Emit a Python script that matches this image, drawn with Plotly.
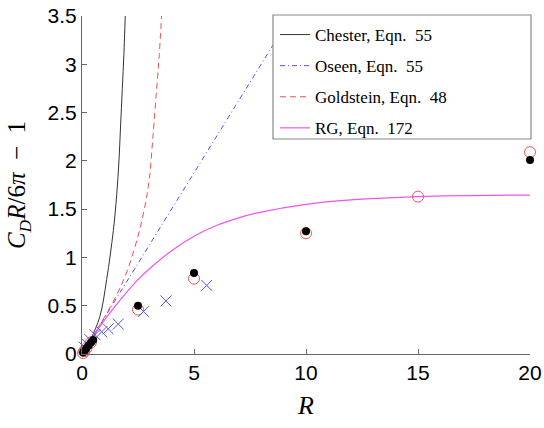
import plotly.graph_objects as go

# Theoretical curves (Reynolds number R vs. C_D R / 6pi - 1)
chester_R = [0, 0.4, 0.8, 1.1, 1.4, 1.55, 1.65, 1.72, 1.8, 1.87, 1.93]
chester_v = [0, 0.16, 0.39, 0.77, 1.28, 1.65, 2.0, 2.35, 2.75, 3.1, 3.5]

oseen_R = [0, 4.0, 8.5, 9.33]
oseen_v = [0, 1.5, 3.19, 3.5]

goldstein_R = [0, 0.5, 1, 1.5, 2, 2.5, 2.8, 3.0, 3.15, 3.3, 3.45, 3.55]
goldstein_v = [0, 0.19, 0.38, 0.59, 0.85, 1.22, 1.52, 1.8, 2.2, 2.65, 3.1, 3.5]

rg_R = [0, 0.5, 1, 1.5, 2, 2.5, 3, 4, 5, 6, 7, 8, 10, 12, 15, 20]
rg_v = [0, 0.18, 0.35, 0.5, 0.64, 0.77, 0.88, 1.07, 1.22, 1.33, 1.41, 1.47,
        1.55, 1.595, 1.63, 1.646]

# Measured / numerical points
filled_R = [0.05, 0.1, 0.2, 0.3, 0.4, 0.5, 2.5, 5, 10, 20]
filled_v = [0.015, 0.03, 0.06, 0.09, 0.12, 0.145, 0.50, 0.84, 1.27, 2.01]

open_R = [0.05, 0.1, 0.2, 0.4, 2.5, 5, 10, 15, 20]
open_v = [0.01, 0.03, 0.06, 0.12, 0.46, 0.78, 1.25, 1.63, 2.09]

cross_R = [0.1, 0.2, 0.35, 0.58, 0.88, 1.17, 1.62, 2.75, 3.75, 5.57]
cross_v = [0.07, 0.11, 0.15, 0.2, 0.23, 0.26, 0.31, 0.44, 0.55, 0.71]

x_ticks = [0, 5, 10, 15, 20]
y_ticks = [0, 0.5, 1, 1.5, 2, 2.5, 3, 3.5]

legend_names = ["Chester,&nbsp;Eqn.&nbsp;&nbsp;55", "Oseen,&nbsp;Eqn.&nbsp;&nbsp;55",
                "Goldstein,&nbsp;Eqn.&nbsp;&nbsp;48", "RG,&nbsp;Eqn.&nbsp;&nbsp;172"]

SERIF = "Liberation Serif, Times New Roman, serif"
SANS = "Liberation Sans, Arial, Helvetica, sans-serif"

# plot area in pixels
L, R_, T, B = 82, 530, 16, 354
PW, PH = R_ - L, B - T

fig = go.Figure()

fig.add_trace(go.Scatter(x=chester_R, y=chester_v, mode="lines", name=legend_names[0],
                         line=dict(color="#333333", width=1, shape="spline"),
                         legendgroup="a"))
fig.add_trace(go.Scatter(x=oseen_R, y=oseen_v, mode="lines", name=legend_names[1],
                         line=dict(color="#5050f0", width=1, dash="5px,3px,1px,3px"),
                         legendgroup="b"))
fig.add_trace(go.Scatter(x=goldstein_R, y=goldstein_v, mode="lines", name=legend_names[2],
                         line=dict(color="#f05050", width=1, dash="6px,4px", shape="spline"),
                         legendgroup="c"))
fig.add_trace(go.Scatter(x=rg_R, y=rg_v, mode="lines", name=legend_names[3],
                         line=dict(color="#ee55ee", width=1.2, shape="spline"),
                         legendgroup="d"))

fig.add_trace(go.Scatter(x=open_R, y=open_v, mode="markers", showlegend=False, cliponaxis=False,
                         marker=dict(symbol="circle-open", size=11, color="#ee5555",
                                     line=dict(width=1, color="#ee5555"))))
fig.add_trace(go.Scatter(x=cross_R, y=cross_v, mode="markers", showlegend=False, cliponaxis=False,
                         marker=dict(symbol="x-thin", size=11, color="#5555ee",
                                     line=dict(width=1, color="#5555ee"))))
fig.add_trace(go.Scatter(x=filled_R, y=filled_v, mode="markers", showlegend=False, cliponaxis=False,
                         marker=dict(symbol="circle", size=8, color="black")))

# Legend frame (white fill hides lines passing behind it)
fig.add_shape(type="rect", xref="paper", yref="paper",
              x0=(273 - L) / PW, x1=(531 - L) / PW,
              y0=(B - 139) / PH, y1=(B - 15) / PH,
              fillcolor="white", line=dict(color="#888888", width=1.2), layer="above")

axis_common = dict(showgrid=False, zeroline=False, showline=True, linecolor="#666666",
                   linewidth=1, ticks="inside", ticklen=5, tickcolor="#666666",
                   automargin=False,
                   tickfont=dict(family=SANS, size=21, color="black"), mirror=False)

fig.update_xaxes(range=[0, 20], tickvals=x_ticks, ticktext=[str(t) for t in x_ticks],
                 title=dict(text="<i>R</i>", font=dict(family=SERIF, size=26, color="black"),
                            standoff=12),
                 **axis_common)
fig.update_yaxes(range=[0, 3.5], tickvals=y_ticks, ticktext=[f"{t:g}" for t in y_ticks],
                 title=dict(text="<i>C<sub>D</sub>R</i>/6<i>π</i>&nbsp;&nbsp;−&nbsp;&nbsp;1",
                            font=dict(family=SERIF, size=25, color="black"), standoff=14),
                 **axis_common)

fig.update_layout(
    width=544, height=428,
    margin=dict(l=L, r=544 - R_, t=T, b=428 - B),
    paper_bgcolor="white", plot_bgcolor="white",
    showlegend=True,
    legend=dict(x=(275 - L) / PW, xanchor="left", y=(B - 17) / PH, yanchor="top",
                bgcolor="rgba(0,0,0,0)", borderwidth=0, tracegroupgap=6,
                font=dict(family=SERIF, size=17, color="black")),
)

fig.write_html("out.html")
